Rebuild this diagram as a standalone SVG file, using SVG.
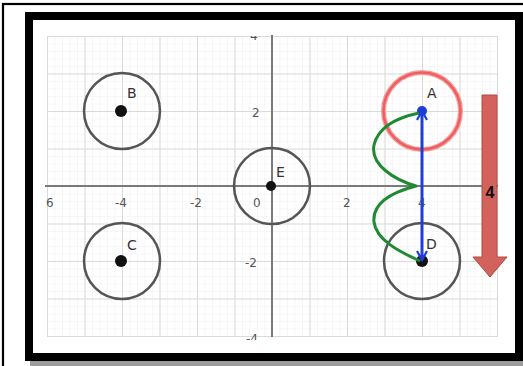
<svg xmlns="http://www.w3.org/2000/svg" width="523" height="366" viewBox="0 0 523 366">
<defs>
<style>
.minor{stroke:#efefef;stroke-width:1}
.major{stroke:#dadada;stroke-width:1}
.axis{stroke:#7a7a7a;stroke-width:2}
.tick{font-family:"DejaVu Sans","Liberation Sans",sans-serif;font-size:12px;fill:#555}
.lbl{font-family:"DejaVu Sans","Liberation Sans",sans-serif;font-size:14px;fill:#333}
.ring{fill:none;stroke:#555;stroke-width:2.5}
.dot{fill:#111}
</style>
<pattern id="minorGrid" x="47" y="36" width="7.5" height="7.5" patternUnits="userSpaceOnUse">
<path d="M0,0 V7.5 M0,0 H7.5" class="minor"/>
</pattern>
<pattern id="majorGrid" x="47" y="36" width="37.5" height="37.5" patternUnits="userSpaceOnUse">
<path d="M0.5,0 V37.5 M0,0.5 H37.5" class="major"/>
</pattern>
<marker id="vh" viewBox="0 0 12 12" refX="10" refY="6" markerWidth="4" markerHeight="4" orient="auto-start-reverse" markerUnits="strokeWidth">
<path d="M1,1 L10,6 L1,11" fill="none" stroke="#1d3fd6" stroke-width="2.2"/>
</marker>
<clipPath id="gclip"><rect x="33" y="36" width="480" height="304"/></clipPath>
</defs>

<!-- page / frame -->
<rect x="0" y="0" width="523" height="366" fill="#fff"/>
<rect x="3" y="4" width="530" height="380" fill="none" stroke="#000" stroke-width="2.2"/>
<rect x="30" y="358" width="493" height="8" fill="#9c9c9c"/>
<rect x="29" y="16" width="490" height="341" fill="none" stroke="#000" stroke-width="8"/>

<!-- grid -->
<g id="grid">
<rect x="47" y="36" width="450" height="300" fill="url(#minorGrid)"/>
<rect x="47" y="36" width="451" height="301" fill="url(#majorGrid)"/>
<line x1="272" y1="35" x2="272" y2="337" class="axis"/>
<line x1="45" y1="186" x2="498" y2="186" class="axis"/>
<g clip-path="url(#gclip)">
<text class="tick" x="250" y="40">4</text>
<text class="tick" x="246" y="343">-4</text>
</g>
<text class="tick" x="252" y="117">2</text>
<text class="tick" x="245" y="267">-2</text>
<text class="tick" x="46" y="207">6</text>
<text class="tick" x="115" y="207">-4</text>
<text class="tick" x="190" y="207">-2</text>
<text class="tick" x="253" y="207">0</text>
<text class="tick" x="343" y="207">2</text>
<text class="tick" x="418" y="207">4</text>
</g>

<g id="nodeB">
<circle cx="122" cy="111" r="38" class="ring"/>
<circle cx="121" cy="111" r="6" class="dot"/>
<text class="lbl" x="127" y="98">B</text>
</g>
<g id="nodeC">
<circle cx="122" cy="261" r="38" class="ring"/>
<circle cx="121" cy="261" r="6" class="dot"/>
<text class="lbl" x="127" y="250">C</text>
</g>
<g id="nodeE">
<circle cx="272" cy="186" r="38" class="ring"/>
<circle cx="271" cy="186" r="5" class="dot"/>
<text class="lbl" x="276" y="177">E</text>
</g>
<g id="nodeA">
<circle cx="422" cy="111" r="38.5" fill="none" stroke="#f4a0a0" stroke-width="5"/>
<circle cx="422" cy="111" r="38.5" fill="none" stroke="#ef5f5f" stroke-width="2.5"/>
<circle cx="422" cy="111" r="5" fill="#1d3fd6"/>
<text class="lbl" x="427" y="98">A</text>
</g>
<g id="nodeD">
<circle cx="422" cy="261" r="38" class="ring"/>
<circle cx="422" cy="261" r="6" class="dot"/>
<text class="lbl" x="426" y="249">D</text>
</g>

<g id="connectors">
<path d="M419,113 C395,118 378,128 374,145 C370,165 395,180 416,186 C393,192 372,203 374,222 C376,240 400,252 420,261" fill="none" stroke="#1f8a32" stroke-width="3" stroke-linejoin="round"/>
<line x1="422" y1="111" x2="422" y2="260" stroke="#1d3fd6" stroke-width="3" marker-start="url(#vh)" marker-end="url(#vh)"/>
</g>

<g id="redArrow">
<path d="M482,95 H497 V257 H507 L490,277 L473,257 H482 Z" fill="#d2625b" stroke="#b04a44" stroke-width="1"/>
<text x="490" y="198" text-anchor="middle" font-family="Liberation Sans, Arial, sans-serif" font-weight="bold" font-size="16" fill="#111">4</text>
</g>
</svg>
